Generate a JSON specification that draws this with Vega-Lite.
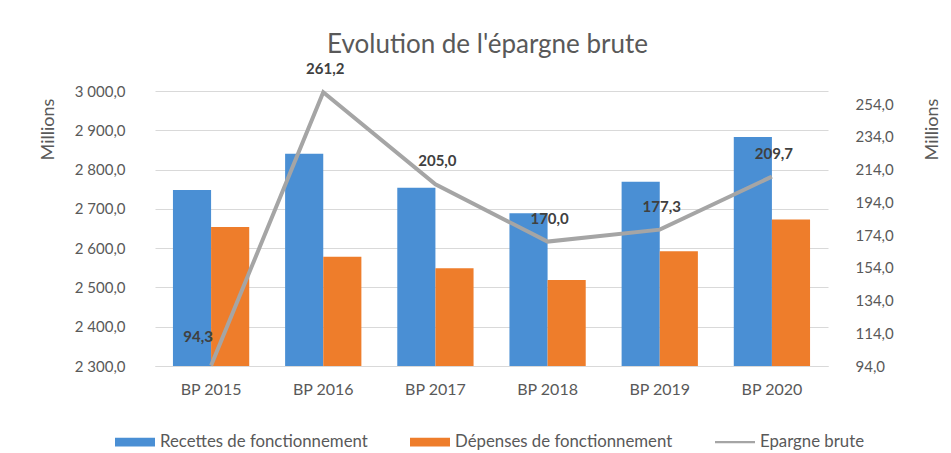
{
  "$schema": "https://vega.github.io/schema/vega-lite/v6.json",
  "width": 673,
  "height": 275,
  "autosize": {"type": "none"},
  "padding": {"left": 155, "top": 91, "right": 123, "bottom": 87},
  "background": "white",
  "title": {
    "text": "Evolution de l'épargne brute",
    "font": "Lato",
    "fontSize": 26,
    "fontWeight": "normal",
    "color": "#595959",
    "anchor": "middle",
    "frame": "group",
    "offset": 4,
    "dx": -4
  },
  "datasets": {
    "bars": [
      {"annee": "BP 2015", "serie": "Recettes de fonctionnement", "valeur": 2748},
      {"annee": "BP 2015", "serie": "Dépenses de fonctionnement", "valeur": 2654},
      {"annee": "BP 2016", "serie": "Recettes de fonctionnement", "valeur": 2840},
      {"annee": "BP 2016", "serie": "Dépenses de fonctionnement", "valeur": 2578},
      {"annee": "BP 2017", "serie": "Recettes de fonctionnement", "valeur": 2754},
      {"annee": "BP 2017", "serie": "Dépenses de fonctionnement", "valeur": 2549},
      {"annee": "BP 2018", "serie": "Recettes de fonctionnement", "valeur": 2689},
      {"annee": "BP 2018", "serie": "Dépenses de fonctionnement", "valeur": 2519},
      {"annee": "BP 2019", "serie": "Recettes de fonctionnement", "valeur": 2769},
      {"annee": "BP 2019", "serie": "Dépenses de fonctionnement", "valeur": 2592},
      {"annee": "BP 2020", "serie": "Recettes de fonctionnement", "valeur": 2883},
      {"annee": "BP 2020", "serie": "Dépenses de fonctionnement", "valeur": 2673}
    ],
    "epargne": [
      {"annee": "BP 2015", "epargne": 94.3},
      {"annee": "BP 2016", "epargne": 261.2},
      {"annee": "BP 2017", "epargne": 205.0},
      {"annee": "BP 2018", "epargne": 170.0},
      {"annee": "BP 2019", "epargne": 177.3},
      {"annee": "BP 2020", "epargne": 209.7}
    ]
  },
  "encoding": {
    "x": {
      "field": "annee",
      "type": "nominal",
      "sort": null,
      "scale": {"paddingInner": 0.32, "paddingOuter": 0.16},
      "axis": {
        "title": null,
        "labelAngle": 0,
        "labelPadding": 15,
        "labelFont": "Lato",
        "labelFontSize": 16,
        "labelColor": "#595959",
        "ticks": false,
        "domain": true,
        "domainColor": "#d9d9d9",
        "grid": false
      }
    }
  },
  "layer": [
    {
      "data": {"name": "bars"},
      "mark": {"type": "bar", "clip": true},
      "encoding": {
        "xOffset": {
          "field": "serie",
          "type": "nominal",
          "sort": ["Recettes de fonctionnement", "Dépenses de fonctionnement"],
          "scale": {"paddingInner": 0, "paddingOuter": 0}
        },
        "y": {
          "field": "valeur",
          "type": "quantitative",
          "scale": {"domain": [2300, 3000], "zero": false, "nice": false},
          "axis": {
            "orient": "left",
            "values": [2300, 2400, 2500, 2600, 2700, 2800, 2900, 3000],
            "format": ",.1f",
            "ticks": false,
            "domain": false,
            "grid": true,
            "gridColor": "#d9d9d9",
            "labelPadding": 30,
            "labelFont": "Lato",
            "labelFontSize": 15,
            "labelColor": "#595959",
            "title": "Millions",
            "titleFont": "Lato",
            "titleFontSize": 18,
            "titleFontWeight": "normal",
            "titleColor": "#595959",
            "titleAngle": -90,
            "titleX": -107,
            "titleY": 38,
            "titleAlign": "center",
            "titleBaseline": "middle"
          }
        },
        "color": {
          "field": "serie",
          "type": "nominal",
          "scale": {
            "domain": ["Recettes de fonctionnement", "Dépenses de fonctionnement", "Epargne brute"],
            "range": ["#4a8fd4", "#ee7d2b", "#a5a5a5"]
          },
          "legend": {
            "title": null,
            "orient": "none",
            "legendX": -40,
            "legendY": 331,
            "direction": "horizontal",
            "labelFont": "Lato",
            "labelFontSize": 16.8,
            "labelColor": "#595959",
            "labelLimit": 400,
            "labelOffset": 5,
            "columnPadding": 42,
            "symbolSize": 1600,
            "encode": {
              "symbols": {
                "update": {
                  "fill": {"scale": "color", "field": "value"},
                  "strokeWidth": {"value": 0},
                  "opacity": {"value": 1},
                  "shape": {"signal": "datum.value === 'Epargne brute' ? 'M-1,-0.06H1V0.06H-1Z' : 'M-1,-0.22H1V0.22H-1Z'"}
                }
              }
            }
          }
        }
      }
    },
    {
      "data": {"name": "epargne"},
      "encoding": {
        "y": {
          "field": "epargne",
          "type": "quantitative",
          "scale": {"domain": [94, 262], "zero": false, "nice": false},
          "axis": {
            "orient": "right",
            "values": [94, 114, 134, 154, 174, 194, 214, 234, 254],
            "format": ",.1f",
            "ticks": false,
            "domain": false,
            "grid": false,
            "labelPadding": 27,
            "labelFont": "Lato",
            "labelFontSize": 15,
            "labelColor": "#595959",
            "title": "Millions",
            "titleFont": "Lato",
            "titleFontSize": 18,
            "titleFontWeight": "normal",
            "titleColor": "#595959",
            "titleAngle": -90,
            "titleX": 104,
            "titleY": 38,
            "titleAlign": "center",
            "titleBaseline": "middle"
          }
        }
      },
      "layer": [
        {
          "mark": {"type": "line", "strokeWidth": 4},
          "encoding": {"color": {"datum": "Epargne brute"}}
        },
        {
          "transform": [{"filter": "datum.epargne > 100"}],
          "mark": {"type": "text", "font": "Lato", "fontSize": 15, "fontWeight": "bold", "color": "#404040", "dy": -23, "dx": 2},
          "encoding": {"text": {"field": "epargne", "type": "quantitative", "format": ".1f"}}
        },
        {
          "transform": [{"filter": "datum.epargne <= 100"}],
          "mark": {"type": "text", "font": "Lato", "fontSize": 15, "fontWeight": "bold", "color": "#404040", "dy": -29, "dx": -13},
          "encoding": {"text": {"field": "epargne", "type": "quantitative", "format": ".1f"}}
        }
      ]
    }
  ],
  "resolve": {"scale": {"y": "independent"}},
  "config": {
    "locale": {
      "number": {"decimal": ",", "thousands": " ", "grouping": [3], "currency": ["", " €"]}
    },
    "view": {"stroke": null},
    "font": "Lato"
  }
}
